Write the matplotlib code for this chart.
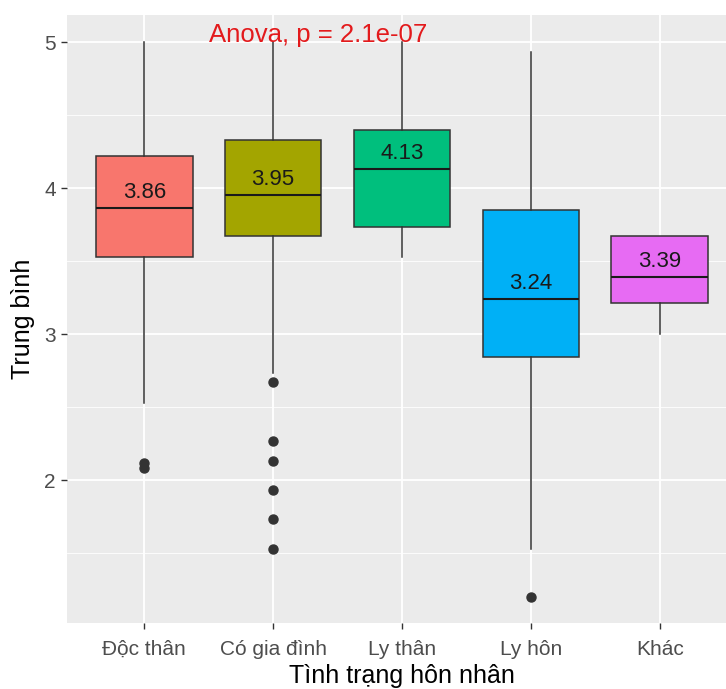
import matplotlib
matplotlib.use("Agg")
import matplotlib.pyplot as plt

plt.rcParams['font.family'] = ['Liberation Sans', 'DejaVu Sans']

categories = ["Độc thân", "Có gia đình", "Ly thân", "Ly hôn", "Khác"]
q1 = [3.53, 3.67, 3.73, 2.84, 3.21]
med = [3.86, 3.95, 4.13, 3.24, 3.39]
q3 = [4.22, 4.33, 4.40, 3.85, 3.67]
whislo = [2.53, 2.73, 3.53, 1.53, 3.00]
whishi = [5.00, 5.00, 5.00, 4.93, 3.67]
fliers = [[2.12, 2.08], [2.67, 2.27, 2.13, 1.93, 1.73, 1.53], [], [1.20], []]
median_labels = ["3.86", "3.95", "4.13", "3.24", "3.39"]
colors = ["#F8766D", "#A3A500", "#00BF7D", "#00B0F6", "#E76BF3"]
yticks = [2, 3, 4, 5]
anova_text = "Anova, p = 2.1e-07"

W, H = 726, 689
fig = plt.figure(figsize=(W / 100, H / 100), dpi=100)
left, right, top, bottom = 67, 737, 15, 623
ax = fig.add_axes([left / W, 1 - bottom / H, (right - left) / W, (bottom - top) / H])

ax.set_facecolor("#EBEBEB")
for s in ax.spines.values():
    s.set_visible(False)

stats = []
for i in range(len(categories)):
    stats.append(dict(q1=q1[i], med=med[i], q3=q3[i], whislo=whislo[i],
                      whishi=whishi[i], fliers=fliers[i], label=categories[i]))

positions = list(range(1, len(categories) + 1))
bp = ax.bxp(stats, positions=positions, widths=0.75, patch_artist=True,
            showcaps=False,
            boxprops=dict(edgecolor="#333333", linewidth=1.1),
            medianprops=dict(color="#1a1a1a", linewidth=1.5),
            whiskerprops=dict(color="#333333", linewidth=1.1),
            flierprops=dict(marker="o", markerfacecolor="#333333",
                            markeredgecolor="#333333", markersize=6.5),
            zorder=3)
for patch, c in zip(bp["boxes"], colors):
    patch.set_facecolor(c)

for x, m, lab in zip(positions, med, median_labels):
    ax.annotate(lab, xy=(x, m), xytext=(0, 11.5), textcoords="offset points",
                ha="center", va="center", fontsize=16, color="#1a1a1a", zorder=5)

ax.text(1.5, 5.05, anova_text, color="#E31A1C", fontsize=18.5,
        ha="left", va="center", zorder=5)

ax.set_xlim(0.4, 5.6)
ax.set_ylim(1.021, 5.185)
ax.set_xticks(positions)
ax.set_xticklabels(categories)
ax.set_yticks(yticks)
ax.set_yticks([1.5, 2.5, 3.5, 4.5], minor=True)
ax.grid(which="major", color="white", linewidth=1.3, zorder=0)
ax.grid(which="minor", axis="y", color="white", linewidth=0.6, zorder=0)
ax.set_axisbelow(True)
ax.tick_params(axis="both", which="major", length=4, width=1, color="#333333",
               labelcolor="#4D4D4D", labelsize=15, pad=4)
ax.tick_params(axis="x", which="major", pad=8)
ax.tick_params(axis="both", which="minor", length=0)

ax.set_xlabel("Tình trạng hôn nhân", fontsize=18, color="black", labelpad=4)
ax.set_ylabel("Trung bình", fontsize=18, color="black", labelpad=7)

fig.savefig("out.png", dpi=100)
